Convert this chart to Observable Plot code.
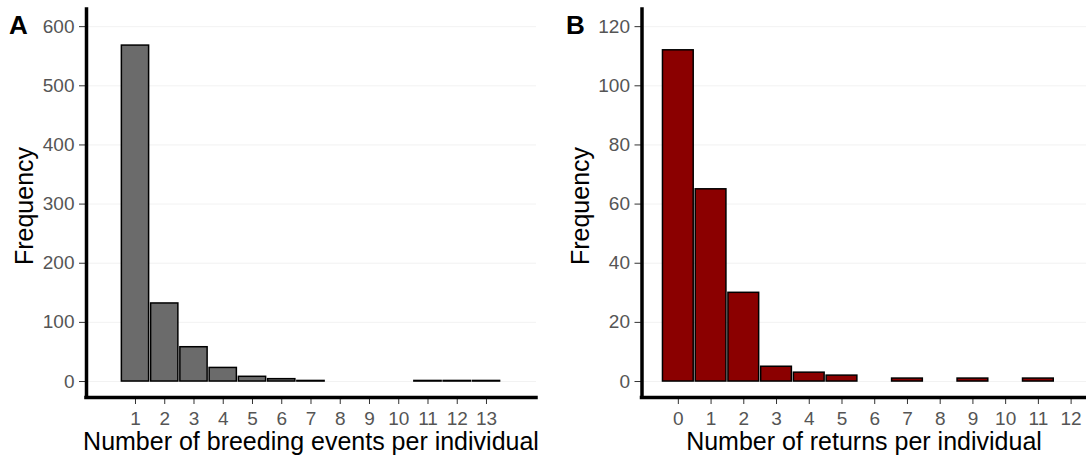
<!DOCTYPE html>
<html><head><meta charset="utf-8">
<script src="https://cdn.jsdelivr.net/npm/d3@7"></script>
<script src="https://cdn.jsdelivr.net/npm/@observablehq/plot@0.6"></script>
<style>
body{margin:0;background:#fff;}
#wrap{position:relative;width:1086px;height:458px;overflow:hidden;font-family:"Liberation Sans",Arial,sans-serif;}
#wrap svg{position:absolute;top:0;}
</style></head><body><div id="wrap"></div>
<script>
// Panel A: number of breeding events per individual
const breedingEvents = [1,2,3,4,5,6,7,8,9,10,11,12,13];
const breedingFreq   = [568,132,58,23,8,4,1,0,0,0,1,1,1];
const breedingXTicks = [1,2,3,4,5,6,7,8,9,10,11,12,13];
const breedingYTicks = [0,100,200,300,400,500,600];

// Panel B: number of returns per individual
const returnsCount = [0,1,2,3,4,5,6,7,8,9,10,11];
const returnsFreq  = [112,65,30,5,3,2,0,1,0,1,0,1];
const returnsXTicks = [0,1,2,3,4,5,6,7,8,9,10,11,12];
const returnsYTicks = [0,20,40,60,80,100,120];

const labelA = "A", labelB = "B";
const yTitle = "Frequency";
const xTitleA = "Number of breeding events per individual";
const xTitleB = "Number of returns per individual";

const FONT = '"Liberation Sans", Arial, Helvetica, sans-serif';

function panel({xs, ys, xTicks, yTicks, xDomain, yDomain, fill, width, marginLeft, marginRight}) {
  const data = xs.map((x, i) => ({x, y: ys[i]})).filter(d => d.y > 0);
  return Plot.plot({
    width, height: 458,
    marginLeft, marginRight, marginTop: 9, marginBottom: 61,
    style: {fontFamily: FONT, background: "transparent", overflow: "visible"},
    x: {domain: xDomain},
    y: {domain: yDomain},
    marks: [
      Plot.gridY(yTicks, {stroke: "#ececec", strokeOpacity: 1, strokeWidth: 0.7}),
      Plot.rectY(data, {x1: d => d.x - 0.5, x2: d => d.x + 0.5, y: "y",
        insetLeft: 1, insetRight: 1, fill, stroke: "black", strokeWidth: 1.5}),
      Plot.axisX(xTicks, {tickSize: 7, tickPadding: 7, fontSize: 19, stroke: "#333",
        fill: "#555", label: null, tickFormat: d => String(d)}),
      Plot.axisY(yTicks, {tickSize: 7, tickPadding: 5, fontSize: 19, stroke: "#333",
        fill: "#555", label: null, tickFormat: d => String(d)}),
      Plot.ruleX([xDomain[0]], {y1: yDomain[0], y2: yDomain[1], stroke: "black",
        strokeWidth: 3.5, strokeLinecap: "square"}),
      Plot.ruleY([yDomain[0]], {x1: xDomain[0], x2: xDomain[1], stroke: "black",
        strokeWidth: 3.5, strokeLinecap: "square"})
    ]
  });
}

const wrap = document.getElementById("wrap");

const left = panel({
  xs: breedingEvents, ys: breedingFreq, xTicks: breedingXTicks, yTicks: breedingYTicks,
  xDomain: [-0.675, 14.71], yDomain: [-27, 629], fill: "#6b6b6b",
  width: 560, marginLeft: 86, marginRight: 24
});
left.style.left = "0px";
wrap.appendChild(left);

const right = panel({
  xs: returnsCount, ys: returnsFreq, xTicks: returnsXTicks, yTicks: returnsYTicks,
  xDomain: [-1.11, 12.47], yDomain: [-5.4, 125.8], fill: "#8b0000",
  width: 530, marginLeft: 85.5, marginRight: 0
});
right.style.left = "556px";
wrap.appendChild(right);

// Overlay text (panel tags and axis titles)
const ns = "http://www.w3.org/2000/svg";
const ov = document.createElementNS(ns, "svg");
ov.setAttribute("width", 1086); ov.setAttribute("height", 458);
ov.style.left = "0px";
ov.style.fontFamily = FONT;
function txt(s, x, y, opts = {}) {
  const t = document.createElementNS(ns, "text");
  t.textContent = s;
  t.setAttribute("x", x); t.setAttribute("y", y);
  t.setAttribute("font-size", opts.size || 25);
  if (opts.weight) t.setAttribute("font-weight", opts.weight);
  t.setAttribute("text-anchor", opts.anchor || "start");
  if (opts.rotate) t.setAttribute("transform", `rotate(${opts.rotate},${x},${y})`);
  t.setAttribute("fill", "black");
  ov.appendChild(t);
}
txt(labelA, 9, 34, {size: 26, weight: "bold"});
txt(labelB, 566, 34, {size: 26, weight: "bold"});
txt(yTitle, 33, 206, {anchor: "middle", rotate: -90});
txt(yTitle, 589, 206, {anchor: "middle", rotate: -90});
txt(xTitleA, 311, 450, {anchor: "middle"});
txt(xTitleB, 864, 450, {anchor: "middle"});
wrap.appendChild(ov);
</script></body></html>
